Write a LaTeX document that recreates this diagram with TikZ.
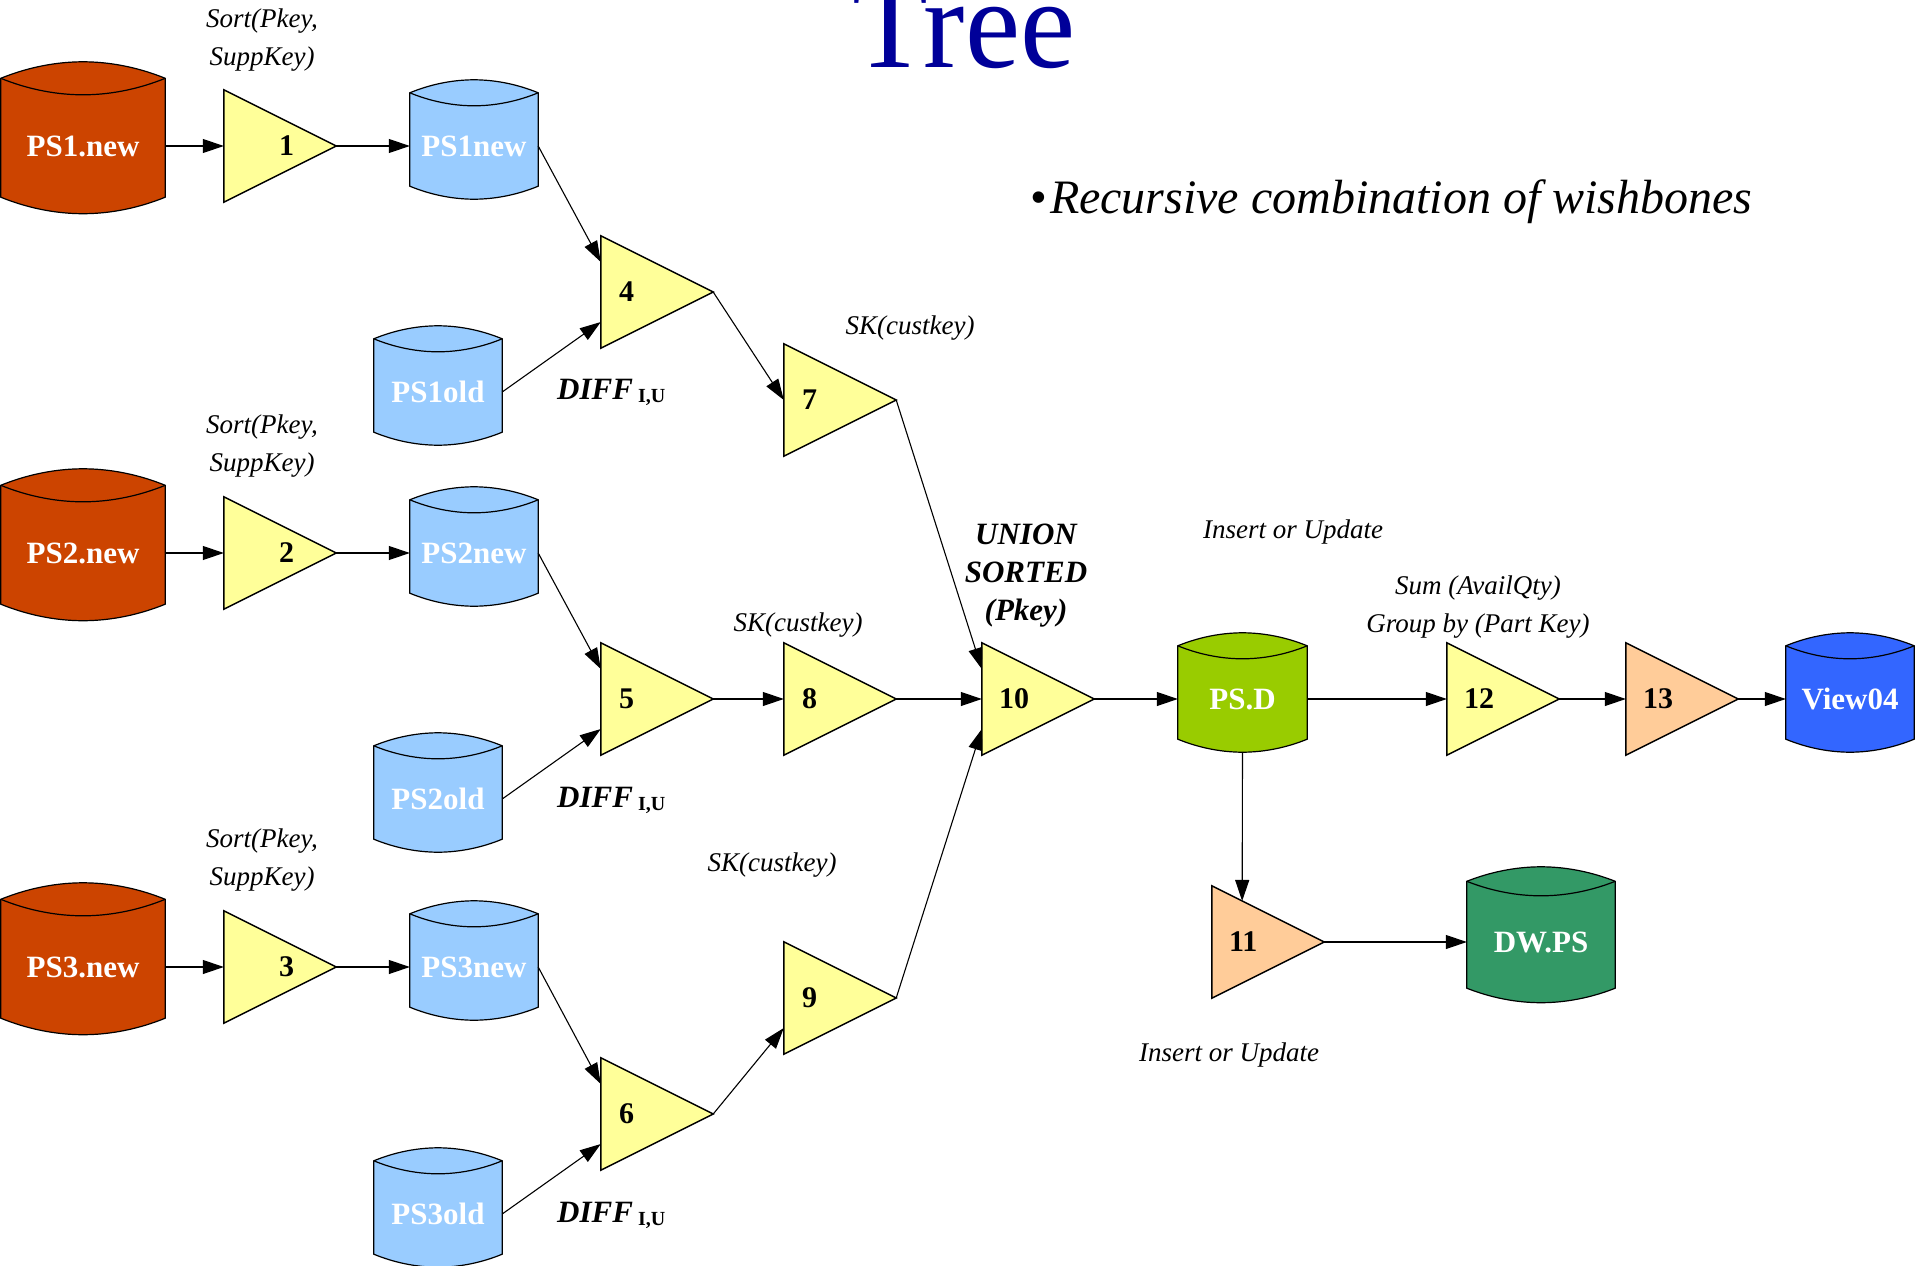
\documentclass[tikz,border=0pt]{standalone}
\usepackage{fontspec}
\setmainfont{Liberation Serif}
\usetikzlibrary{arrows.meta,calc}
\pgfdeclarelayer{background}
\pgfsetlayers{background,main}

\definecolor{rednew}{RGB}{204,68,0}
\definecolor{paleblue}{RGB}{153,204,255}
\definecolor{psdgreen}{RGB}{153,204,0}
\definecolor{viewblue}{RGB}{51,102,255}
\definecolor{dwgreen}{RGB}{51,153,102}
\definecolor{triyellow}{RGB}{255,255,153}
\definecolor{triorange}{RGB}{255,204,153}
\definecolor{titleblue}{RGB}{0,0,153}

\newcommand\labfont{\fontsize{31}{36}\selectfont\bfseries}
\newcommand\numfont{\fontsize{30}{36}\selectfont\bfseries}
\newcommand\notefont{\fontsize{27}{38}\selectfont\itshape}
\newcommand\boldnotefont{\fontsize{31}{38}\selectfont\bfseries\itshape}

% Can outline around a text node: #1 node, #2 fill colour, #3 arc sag
\newcommand\candraw[3]{%
  \filldraw[fill=#2, line width=1.2pt]
    ([yshift=#3]#1.north west) -- (#1.south west)
    parabola bend ([yshift=-#3]#1.south) (#1.south east)
    -- ([yshift=#3]#1.north east)
    parabola bend ([yshift=2*#3]#1.north) ([yshift=#3]#1.north west) -- cycle;
  \draw[line width=1.2pt] ([yshift=#3]#1.north west)
    parabola bend (#1.north) ([yshift=#3]#1.north east);
}
% Operator triangle filling the square node #1
\newcommand\tridraw[2]{%
  \filldraw[fill=#2, line width=1.5pt]
    (#1.north west) -- (#1.east) -- (#1.south west) -- cycle;
}
% DIFF label with its subscript
\newcommand\difflabel{{\boldnotefont DIFF}\hspace{5pt}\raisebox{-3pt}{\fontsize{20}{20}\selectfont\bfseries I,U}}

\begin{document}
\begin{tikzpicture}[x=1pt, y=-1pt,
  canbig/.style={minimum width=164pt, minimum height=102pt, inner sep=0pt, text=white, font=\labfont},
  canmid/.style={minimum width=128pt, minimum height=80pt, inner sep=0pt, text=white, font=\labfont},
  canwide/.style={minimum width=148pt, minimum height=92pt, inner sep=0pt, text=white, font=\labfont},
  optri/.style={minimum width=112pt, minimum height=112pt, text width=112pt, inner sep=0pt, align=left, font=\numfont},
  note/.style={font=\notefont, align=center, inner sep=0pt},
  boldnote/.style={font=\boldnotefont, align=center, inner sep=0pt},
  flow/.style={line width=1.1pt, -{Triangle[length=21pt,width=14pt]}}
]
\useasboundingbox (0,0) rectangle (1915,1266);

% headings
\node[anchor=base west, inner sep=0pt, text=titleblue, font=\fontsize{128}{128}\selectfont] (title) at (852,67) {\scalebox{0.97}[1]{Tree}};
\node[anchor=base west, inner sep=0pt, font=\fontsize{48}{52}\selectfont] (bullet) at (1030,213) {\textbullet\hspace{3pt}\itshape Recursive combination of wishbones};

% source tables
\node[canbig] (ps1n) at (83,146) {PS1.new};
\node[canbig] (ps2n) at (83,553) {PS2.new};
\node[canbig] (ps3n) at (83,967) {PS3.new};

% sorted and old snapshots
\node[canmid] (ps1) at (474,146) {PS1new};
\node[canmid] (ps2) at (474,553) {PS2new};
\node[canmid] (ps3) at (474,967) {PS3new};
\node[canmid] (ps1o) at (438,392) {PS1old};
\node[canmid] (ps2o) at (438,799) {PS2old};
\node[canmid] (ps3o) at (438,1214) {PS3old};

% targets
\node[canmid, minimum width=129pt] (psd) at (1242.5,699) {PS.D};
\node[canmid] (view) at (1850,699) {View04};
\node[canwide] (dwps) at (1541,942) {DW.PS};

% operators
\node[optri] (t1) at (280,146) {\hspace*{55pt}1};
\node[optri] (t2) at (280,553) {\hspace*{55pt}2};
\node[optri] (t3) at (280,967) {\hspace*{55pt}3};
\node[optri] (t4) at (657,292) {\hspace*{18pt}4};
\node[optri] (t5) at (657,699) {\hspace*{18pt}5};
\node[optri] (t6) at (657,1114) {\hspace*{18pt}6};
\node[optri] (t7) at (840,400) {\hspace*{18pt}7};
\node[optri] (t8) at (840,699) {\hspace*{18pt}8};
\node[optri] (t9) at (840,998) {\hspace*{18pt}9};
\node[optri] (t10) at (1038,699) {\hspace*{17pt}10};
\node[optri] (t11) at (1268,942) {\hspace*{17pt}11};
\node[optri] (t12) at (1503,699) {\hspace*{17pt}12};
\node[optri] (t13) at (1682,699) {\hspace*{17pt}13};

% annotations
\node[note] (sort1) at (262,40) {Sort(Pkey,\\SuppKey)};
\node[note] (sort2) at (262,446) {Sort(Pkey,\\SuppKey)};
\node[note] (sort3) at (262,860) {Sort(Pkey,\\SuppKey)};
\node[anchor=west, inner sep=0pt] (diff1) at (557,392) {\difflabel};
\node[anchor=west, inner sep=0pt] (diff2) at (557,800) {\difflabel};
\node[anchor=west, inner sep=0pt] (diff3) at (557,1215) {\difflabel};
\node[note] (sk7) at (910,328) {SK(custkey)};
\node[note] (sk8) at (798,625) {SK(custkey)};
\node[note] (sk9) at (772,865) {SK(custkey)};
\node[boldnote] (union) at (1026,576) {UNION\\SORTED\\(Pkey)};
\node[note] (ins1) at (1293,532) {Insert or Update};
\node[note] (sum) at (1478,607) {Sum (AvailQty)\\Group by (Part Key)};
\node[note] (ins2) at (1229,1055) {Insert or Update};

% shapes behind the labels
\begin{pgfonlayer}{background}
  \candraw{ps1n}{rednew}{16.5pt}
  \candraw{ps2n}{rednew}{16.5pt}
  \candraw{ps3n}{rednew}{16.5pt}
  \candraw{ps1}{paleblue}{13pt}
  \candraw{ps2}{paleblue}{13pt}
  \candraw{ps3}{paleblue}{13pt}
  \candraw{ps1o}{paleblue}{13pt}
  \candraw{ps2o}{paleblue}{13pt}
  \candraw{ps3o}{paleblue}{13pt}
  \candraw{psd}{psdgreen}{13pt}
  \candraw{view}{viewblue}{13pt}
  \candraw{dwps}{dwgreen}{14.5pt}
  \foreach \t in {t1,t2,t3,t4,t5,t6,t7,t8,t9,t10,t12}{\tridraw{\t}{triyellow}}
  \foreach \t in {t11,t13}{\tridraw{\t}{triorange}}
\end{pgfonlayer}

% data flow
\draw[flow] (ps1n.east) -- (t1.west);
\draw[flow] (t1.east) -- (ps1.west);
\draw[flow] (ps1.east) -- ([yshift=30pt]t4.west);
\draw[flow] (ps1o.east) -- ([yshift=-30pt]t4.west);
\draw[flow] (t4.east) -- (t7.west);

\draw[flow] (ps2n.east) -- (t2.west);
\draw[flow] (t2.east) -- (ps2.west);
\draw[flow] (ps2.east) -- ([yshift=30pt]t5.west);
\draw[flow] (ps2o.east) -- ([yshift=-30pt]t5.west);
\draw[flow] (t5.east) -- (t8.west);

\draw[flow] (ps3n.east) -- (t3.west);
\draw[flow] (t3.east) -- (ps3.west);
\draw[flow] (ps3.east) -- ([yshift=30pt]t6.west);
\draw[flow] (ps3o.east) -- ([yshift=-30pt]t6.west);
\draw[flow] (t6.east) -- ([yshift=-30pt]t9.west);

\draw[flow] (t7.east) -- ([yshift=30pt]t10.west);
\draw[flow] (t8.east) -- (t10.west);
\draw[flow] (t9.east) -- ([yshift=-30pt]t10.west);

\draw[flow] (t10.east) -- (psd.west);
\draw[flow] (psd.east) -- (t12.west);
\draw[flow] (t12.east) -- (t13.west);
\draw[flow] (t13.east) -- (view.west);
\draw[flow] ([yshift=-13pt]psd.south) -- ($(t11.north west)!0.27!(t11.east)$);
\draw[flow] (t11.east) -- (dwps.west);
\end{tikzpicture}
\end{document}
